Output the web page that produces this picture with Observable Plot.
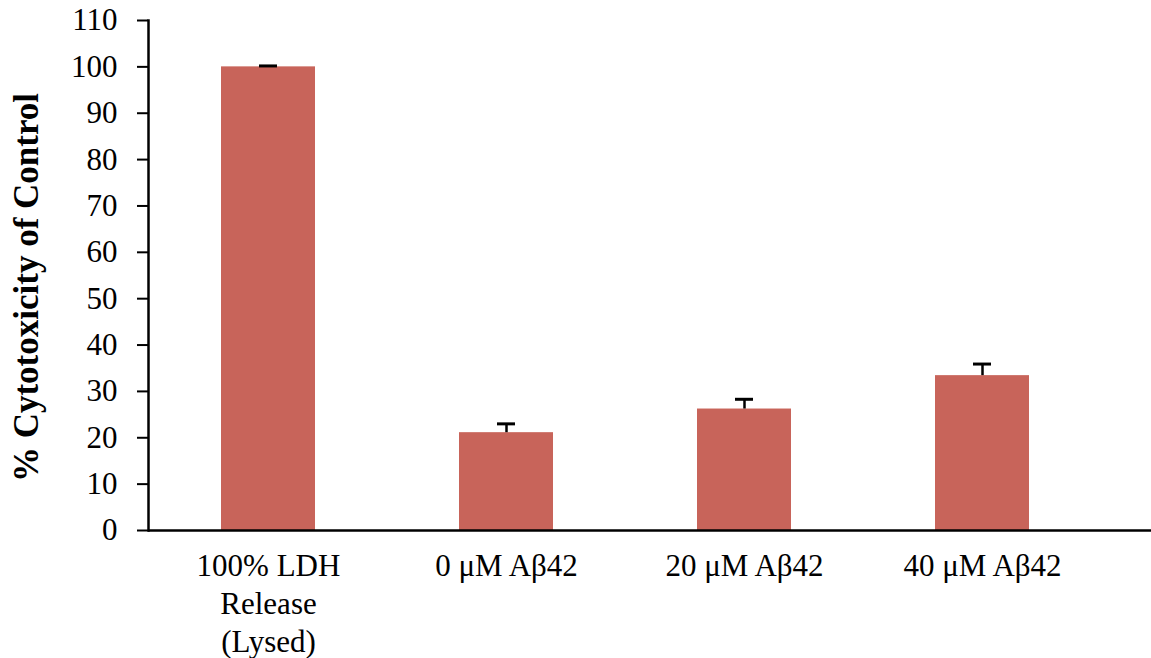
<!DOCTYPE html>
<html>
<head>
<meta charset="utf-8">
<script src="https://cdn.jsdelivr.net/npm/d3@7"></script>
<script src="https://cdn.jsdelivr.net/npm/@observablehq/plot@0.6"></script>
<style>
  html, body { margin: 0; padding: 0; background: #fff; }
  #chart svg { display: block; }
</style>
</head>
<body>
<div id="chart"></div>
<script>
const categories = ["100% LDH\nRelease\n(Lysed)", "0 \u03bcM A\u03b242", "20 \u03bcM A\u03b242", "40 \u03bcM A\u03b242"];
const values = [100, 21.1, 26.2, 33.4];
const errors = [0.2, 1.9, 2.1, 2.5];
const yTicks = [0, 10, 20, 30, 40, 50, 60, 70, 80, 90, 100, 110];
const yLabel = "% Cytotoxicity of Control";

const data = categories.map((c, i) => ({cat: c, value: values[i], top: values[i] + errors[i]}));
const font = "Liberation Serif, Times New Roman, serif";

const chart = Plot.plot({
  width: 1151,
  height: 658,
  marginLeft: 148,
  marginRight: 0,
  marginTop: 20,
  marginBottom: 128,
  style: {fontFamily: font, fontSize: "31px", color: "#000", background: "#fff"},
  x: {domain: categories, paddingInner: 0.606, paddingOuter: 0.406, align: 0.372, label: null},
  y: {domain: [0, 110], label: null},
  marks: [
    Plot.barY(data, {x: "cat", y: "value", fill: "#c8645a"}),
    Plot.ruleX(data, {x: "cat", y1: "value", y2: "top", stroke: "#000", strokeWidth: 2.5}),
    Plot.tickY(data, {x: "cat", y: "top", stroke: "#000", strokeWidth: 3, insetLeft: 38, insetRight: 38}),
    Plot.axisX({tickSize: 0, tickPadding: 19, fontSize: 31, lineHeight: 1.22, label: null}),
    Plot.axisY({ticks: yTicks, tickSize: 11, tickPadding: 20, strokeWidth: 2, fontSize: 31, label: null}),
    Plot.ruleY([0], {stroke: "#000", strokeWidth: 2.5}),
    Plot.frame({anchor: "left", stroke: "#000", strokeWidth: 2.5}),
    Plot.text([yLabel], {frameAnchor: "left", textAnchor: "middle", rotate: -90, dx: -122, dy: 12, fontWeight: "bold", fontSize: 35, fill: "#000"})
  ]
});
document.getElementById("chart").appendChild(chart);
</script>
</body>
</html>
